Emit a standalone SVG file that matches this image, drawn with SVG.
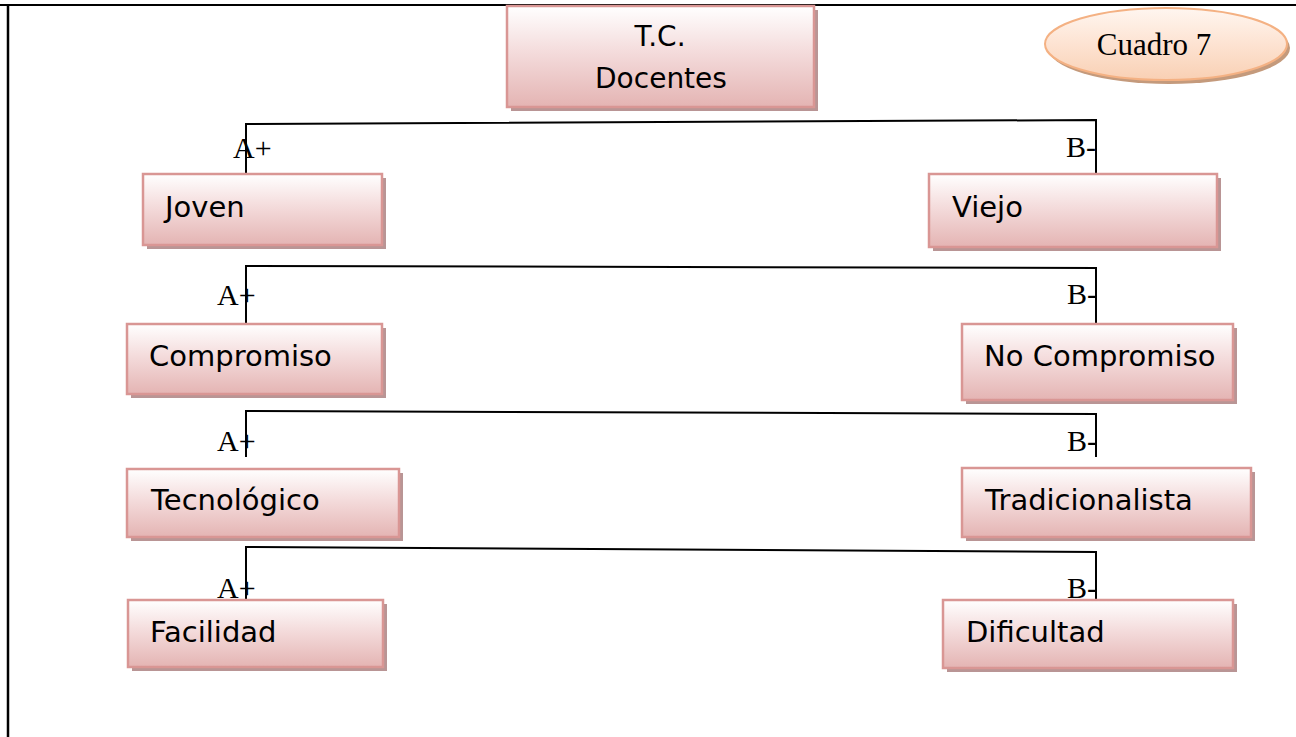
<svg xmlns="http://www.w3.org/2000/svg" width="1296" height="737" viewBox="0 0 1296 737">
<defs>
<linearGradient id="boxGrad" x1="0" y1="0" x2="0" y2="1">
<stop offset="0" stop-color="#ffffff"/>
<stop offset="0.45" stop-color="#f4dcdc"/>
<stop offset="1" stop-color="#e4b4b3"/>
</linearGradient>
<linearGradient id="ovalGrad" x1="0" y1="0" x2="0" y2="1">
<stop offset="0" stop-color="#fff6f0"/>
<stop offset="0.5" stop-color="#fde3d2"/>
<stop offset="1" stop-color="#f9d0b4"/>
</linearGradient>
</defs>
<style>
.box{fill:url(#boxGrad);stroke:#d99694;stroke-width:2.5}
.shadow{fill:#b99595}
.lbl{font-family:"DejaVu Sans","Liberation Sans",sans-serif;font-size:29px;fill:#000}
.top{font-family:"DejaVu Sans","Liberation Sans",sans-serif;font-size:28px;fill:#000;text-anchor:middle}
.ab{font-family:"Liberation Serif","Times New Roman",serif;font-size:30px;fill:#000}
.conn{fill:none;stroke:#000;stroke-width:2}
</style>
<rect width="1296" height="737" fill="#ffffff"/>
<g id="frame">
<line x1="0" y1="5" x2="1296" y2="5" stroke="#000" stroke-width="2"/>
<line x1="8" y1="4" x2="8" y2="737" stroke="#000" stroke-width="2.5"/>
</g>
<g id="connectors">
<polyline class="conn" points="246,174 246,124 1096,120 1096,174"/>
<polyline class="conn" points="246,324 246,266 1096,268 1096,324"/>
<polyline class="conn" points="246,457 246,411 1096,414 1096,457"/>
<polyline class="conn" points="246,600 246,547 1096,552 1096,600"/>
<text class="ab" x="233" y="158">A+</text>
<text class="ab" x="1066" y="157">B-</text>
<text class="ab" x="217" y="305">A+</text>
<text class="ab" x="1067" y="304">B-</text>
<text class="ab" x="217" y="451">A+</text>
<text class="ab" x="1067" y="451">B-</text>
<text class="ab" x="217" y="598">A+</text>
<text class="ab" x="1067" y="598">B-</text>
</g>
<g id="root">
<rect class="shadow" x="511" y="10" width="307" height="101"/>
<rect class="box" x="507" y="6" width="307" height="101"/>
<text class="top" x="660" y="46">T.C.</text>
<text class="top" x="661" y="88">Docentes</text>
</g>
<g id="cuadro7">
<ellipse cx="1169" cy="48" rx="121" ry="36" fill="#c49a7c"/>
<ellipse cx="1166" cy="44" rx="121" ry="36" fill="url(#ovalGrad)" stroke="#f4b183" stroke-width="2"/>
<text x="1154" y="55" text-anchor="middle" font-family="'Liberation Serif','Times New Roman',serif" font-size="31" fill="#000">Cuadro 7</text>
</g>
<g id="joven">
<rect class="shadow" x="147" y="178" width="239" height="71"/>
<rect class="box" x="143" y="174" width="239" height="71"/>
<text class="lbl" x="165" y="217">Joven</text>
</g>
<g id="viejo">
<rect class="shadow" x="933" y="178" width="288" height="73"/>
<rect class="box" x="929" y="174" width="288" height="73"/>
<text class="lbl" x="952" y="217">Viejo</text>
</g>
<g id="compromiso">
<rect class="shadow" x="131" y="328" width="255" height="70"/>
<rect class="box" x="127" y="324" width="255" height="70"/>
<text class="lbl" x="149" y="366">Compromiso</text>
</g>
<g id="nocompromiso">
<rect class="shadow" x="966" y="328" width="271" height="76"/>
<rect class="box" x="962" y="324" width="271" height="76"/>
<text class="lbl" x="984" y="366">No Compromiso</text>
</g>
<g id="tecnologico">
<rect class="shadow" x="131" y="473" width="272" height="68"/>
<rect class="box" x="127" y="469" width="272" height="68"/>
<text class="lbl" x="151" y="510">Tecnológico</text>
</g>
<g id="tradicionalista">
<rect class="shadow" x="966" y="472" width="289" height="69"/>
<rect class="box" x="962" y="468" width="289" height="69"/>
<text class="lbl" x="985" y="510">Tradicionalista</text>
</g>
<g id="facilidad">
<rect class="shadow" x="132" y="604" width="255" height="67"/>
<rect class="box" x="128" y="600" width="255" height="67"/>
<text class="lbl" x="150" y="642">Facilidad</text>
</g>
<g id="dificultad">
<rect class="shadow" x="947" y="604" width="290" height="68"/>
<rect class="box" x="943" y="600" width="290" height="68"/>
<text class="lbl" x="966" y="642">Dificultad</text>
</g>
</svg>
